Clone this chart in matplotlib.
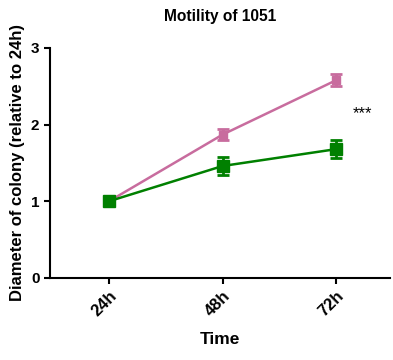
import matplotlib
matplotlib.use('Agg')
import matplotlib.pyplot as plt

plt.rcParams['font.family'] = ['Liberation Sans', 'DejaVu Sans']
plt.rcParams['font.weight'] = 'bold'

times = ['24h', '48h', '72h']
pink_mean = [1.0, 1.87, 2.58]
pink_err = [0.03, 0.07, 0.08]
green_mean = [1.0, 1.46, 1.68]
green_err = [0.05, 0.12, 0.12]

x = list(range(len(times)))

fig = plt.figure(figsize=(3.93, 3.6), dpi=100)
ax = fig.add_axes([0.127, 0.228, 0.865, 0.639])

ax.errorbar(x, pink_mean, yerr=pink_err, color='#c86c9e', marker='s', markersize=6,
            linewidth=1.8, elinewidth=2, capsize=4, capthick=2)
ax.errorbar(x, green_mean, yerr=green_err, color='#008000', marker='s', markersize=8,
            linewidth=1.8, elinewidth=2, capsize=4, capthick=2)

ax.text(2.23, 2.14, '***', fontsize=12, fontweight='normal', ha='center', va='center')

ax.set_xlim(-0.52, 2.47)
ax.set_ylim(0, 3)
ax.set_yticks([0, 1, 2, 3])
ax.set_xticks(x)
ax.set_xticklabels(times, rotation=45, ha='right', rotation_mode='anchor')
ax.tick_params(labelsize=11, width=1.5, length=4.5, pad=3)
ax.tick_params(axis='x', labelsize=12)
for lab in ax.get_xticklabels() + ax.get_yticklabels():
    lab.set_fontweight('bold')

ax.spines['top'].set_visible(False)
ax.spines['right'].set_visible(False)
ax.spines['left'].set_linewidth(1.5)
ax.spines['bottom'].set_linewidth(1.5)

ax.set_title('Motility of 1051', fontsize=11.2, fontweight='bold', pad=19)
ax.set_xlabel('Time', fontsize=12.5, fontweight='bold', labelpad=9)
ax.set_ylabel('Diameter of colony (relative to 24h)', fontsize=12, fontweight='bold', labelpad=4)

fig.savefig('out.png', dpi=100)
